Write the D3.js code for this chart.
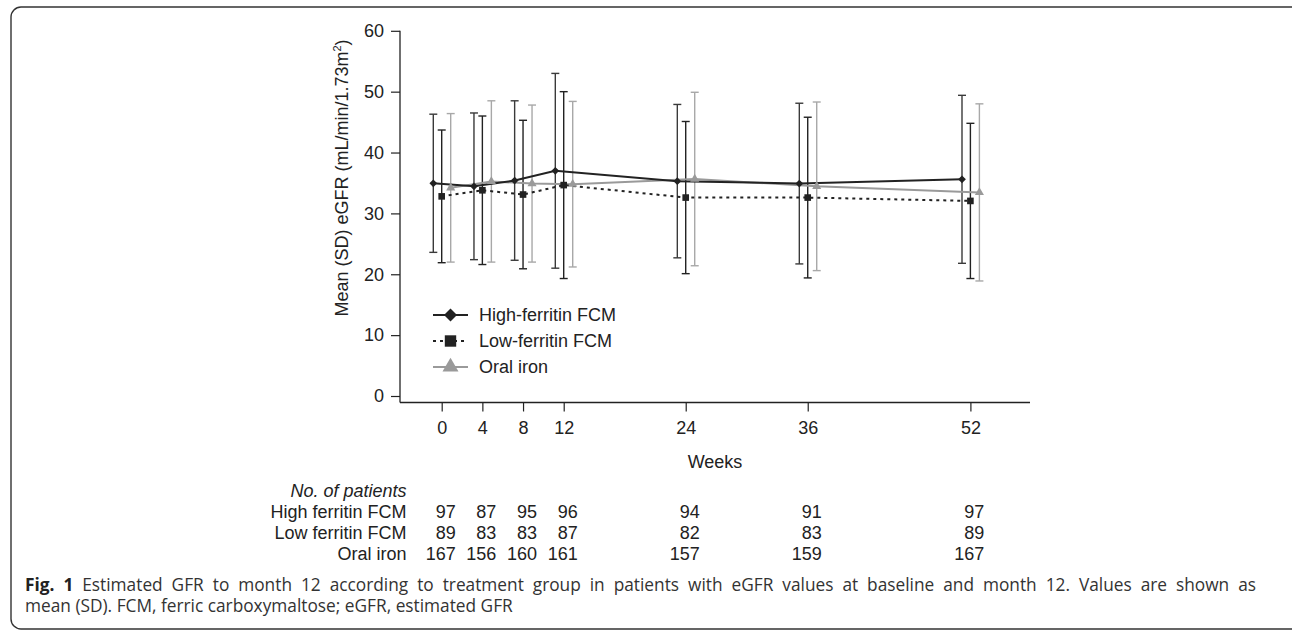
<!DOCTYPE html>
<html><head><meta charset="utf-8">
<script src="https://cdn.jsdelivr.net/npm/d3@7"></script>
<style>
body{margin:0;background:#fff;}
svg text{font-family:"Liberation Sans",Arial,sans-serif;}
</style></head>
<body>
<svg id="c" width="1292" height="630"></svg>
<script>
// ---- data ----
const weeks = [0, 4, 8, 12, 24, 36, 52];
const yTicks = [0, 10, 20, 30, 40, 50, 60];
const seriesNames = ["High-ferritin FCM", "Low-ferritin FCM", "Oral iron"];
const highMean = [34.95, 34.45, 35.4, 37.0, 35.3, 34.9, 35.6];
const highSD   = [11.35, 12.05, 13.1, 16.0, 12.6, 13.2, 13.8];
const lowMean  = [32.8, 33.8, 33.1, 34.65, 32.6, 32.6, 32.05];
const lowSD    = [10.9, 12.2, 12.2, 15.35, 12.5, 13.2, 12.75];
const oralMean = [34.2, 35.25, 34.9, 34.8, 35.65, 34.45, 33.45];
const oralSD   = [12.2, 13.25, 12.9, 13.6, 14.25, 13.85, 14.55];
const tableLabels = ["High ferritin FCM", "Low ferritin FCM", "Oral iron"];
const nHigh = [97, 87, 95, 96, 94, 91, 97];
const nLow  = [89, 83, 83, 87, 82, 83, 89];
const nOral = [167, 156, 160, 161, 157, 159, 167];
const captionBold = "Fig. 1";
const captionLine1 = " Estimated GFR to month 12 according to treatment group in patients with eGFR values at baseline and month 12. Values are shown as";
const captionLine2 = "mean (SD). FCM, ferric carboxymaltose; eGFR, estimated GFR";

const svg = d3.select("#c");

// border
svg.append("rect").attr("x", 11).attr("y", 7).attr("width", 1290).attr("height", 622)
  .attr("rx", 10).attr("fill", "none").attr("stroke", "#333").attr("stroke-width", 1.4);

const x = d3.scaleLinear().domain([0, 52]).range([441.7, 970.4]);
const y = d3.scaleLinear().domain([0, 60]).range([396, 30.8]);

const axisColor = "#222";
// y axis
const ya = svg.append("g").attr("transform", "translate(400,0)")
  .call(d3.axisLeft(y).tickValues(yTicks).tickSize(9).tickPadding(7).tickSizeOuter(0));
ya.select(".domain").remove();
ya.selectAll("line").attr("stroke", axisColor).attr("stroke-width", 1.2);
ya.selectAll("text").attr("font-size", 18).attr("fill", "#222")
  .attr("font-family", "Liberation Sans, Arial, sans-serif");
svg.append("line").attr("x1", 400).attr("x2", 400).attr("y1", y(60)).attr("y2", 402.5)
  .attr("stroke", axisColor).attr("stroke-width", 1.3);

// x axis
const xa = svg.append("g").attr("transform", "translate(0,402.5)")
  .call(d3.axisBottom(x).tickValues(weeks).tickSize(9).tickPadding(10).tickSizeOuter(0));
xa.select(".domain").remove();
xa.selectAll("line").attr("stroke", axisColor).attr("stroke-width", 1.2);
xa.selectAll("text").attr("font-size", 18).attr("fill", "#222")
  .attr("font-family", "Liberation Sans, Arial, sans-serif");
svg.append("line").attr("x1", 400).attr("x2", 1030).attr("y1", 402.5).attr("y2", 402.5)
  .attr("stroke", axisColor).attr("stroke-width", 1.3);

// axis titles
svg.append("text").attr("x", 715).attr("y", 468).attr("text-anchor", "middle")
  .attr("font-size", 18).attr("fill", "#222").text("Weeks");
const yt = svg.append("text").attr("transform", "translate(348,178) rotate(-90)")
  .attr("text-anchor", "middle").attr("font-size", 18).attr("fill", "#222");
yt.append("tspan").text("Mean (SD) eGFR (mL/min/1.73m");
yt.append("tspan").attr("font-size", 11).attr("dy", -7).text("2");
yt.append("tspan").attr("dy", 7).text(")");

// series
const series = [
  {name: seriesNames[0], mean: highMean, sd: highSD, off: -8.4, color: "#222", barColor: "#3a3a3a", dash: null, marker: "diamond"},
  {name: seriesNames[1], mean: lowMean, sd: lowSD, off: 0, color: "#222", barColor: "#222", dash: "3,4", marker: "square"},
  {name: seriesNames[2], mean: oralMean, sd: oralSD, off: 9, color: "#9a9a9a", barColor: "#a8a8a8", dash: null, marker: "triangle"}
];
const symType = {diamond: d3.symbolSquare, square: d3.symbolSquare, triangle: d3.symbolTriangle};
const symRot = {diamond: 45, square: 0, triangle: 0};
const markerSize = {diamond: 30, square: 44, triangle: 36};
const legSize = {diamond: 85, square: 130, triangle: 110};

const plot = svg.append("g");
// error bars first
series.forEach(s => {
  const g = plot.append("g");
  weeks.forEach((w, i) => {
    const cx = x(w) + s.off;
    const top = y(s.mean[i] + s.sd[i]), bot = y(s.mean[i] - s.sd[i]);
    g.append("line").attr("x1", cx).attr("x2", cx).attr("y1", top).attr("y2", bot)
      .attr("stroke", s.barColor).attr("stroke-width", 1.4);
    [top, bot].forEach(yy => g.append("line").attr("x1", cx - 4).attr("x2", cx + 4)
      .attr("y1", yy).attr("y2", yy).attr("stroke", s.barColor).attr("stroke-width", 1.4));
  });
});
// lines
series.slice().reverse().forEach(s => {
  const line = d3.line().x((w, i) => x(w) + s.off).y((w, i) => y(s.mean[i]));
  plot.append("path").datum(weeks).attr("d", line).attr("fill", "none")
    .attr("stroke", s.color).attr("stroke-width", 2).attr("stroke-dasharray", s.dash);
});
// markers
series.forEach(s => {
  weeks.forEach((w, i) => {
    plot.append("path").attr("d", d3.symbol(symType[s.marker], markerSize[s.marker])())
      .attr("transform", `translate(${x(w) + s.off},${y(s.mean[i])}) rotate(${symRot[s.marker]})`)
      .attr("fill", s.color);
  });
});

// legend
const legY = [315, 341, 367];
series.forEach((s, i) => {
  const g = svg.append("g").attr("transform", `translate(0,${legY[i]})`);
  g.append("line").attr("x1", 433).attr("x2", 468).attr("y1", 0).attr("y2", 0)
    .attr("stroke", s.color).attr("stroke-width", 2).attr("stroke-dasharray", s.dash);
  g.append("path").attr("d", d3.symbol(symType[s.marker], legSize[s.marker])())
    .attr("transform", `translate(450.5,0) rotate(${symRot[s.marker]})`).attr("fill", s.color);
  g.append("text").attr("x", 479).attr("y", 0).attr("dy", "0.35em")
    .attr("font-size", 18).attr("fill", "#222").text(s.name);
});

// table
svg.append("text").attr("x", 406.5).attr("y", 497).attr("text-anchor", "end")
  .attr("font-size", 18).attr("font-style", "italic").attr("fill", "#222").text("No. of patients");
const rows = [nHigh, nLow, nOral];
const rowY = [518, 539, 560];
rows.forEach((r, ri) => {
  svg.append("text").attr("x", 406.5).attr("y", rowY[ri]).attr("text-anchor", "end")
    .attr("font-size", 18).attr("fill", "#222").text(tableLabels[ri]);
  svg.selectAll(null).data(r).enter().append("text")
    .attr("x", (d, i) => x(weeks[i]) + 14).attr("y", rowY[ri]).attr("text-anchor", "end")
    .attr("font-size", 18).attr("fill", "#222").text(d => d);
});

// caption (first line justified to the box width)
const capFont = 17.3;
const cap = svg.append("text").attr("x", 25).attr("y", 591)
  .attr("font-size", capFont).attr("fill", "#333").style("font-family", "'Open Sans', sans-serif");
cap.append("tspan").attr("font-weight", "bold").attr("fill", "#222").text(captionBold);
cap.append("tspan").text(captionLine1);
const natural = cap.node().getComputedTextLength();
const nSpaces = (captionBold + captionLine1).split(" ").length - 1;
const target = 1256 - 25;
cap.style("word-spacing", ((target - natural) / nSpaces) + "px");
svg.append("text").attr("x", 25).attr("y", 612).attr("font-size", capFont).attr("fill", "#333")
  .style("font-family", "'Open Sans', sans-serif").text(captionLine2);
</script>
</body></html>
